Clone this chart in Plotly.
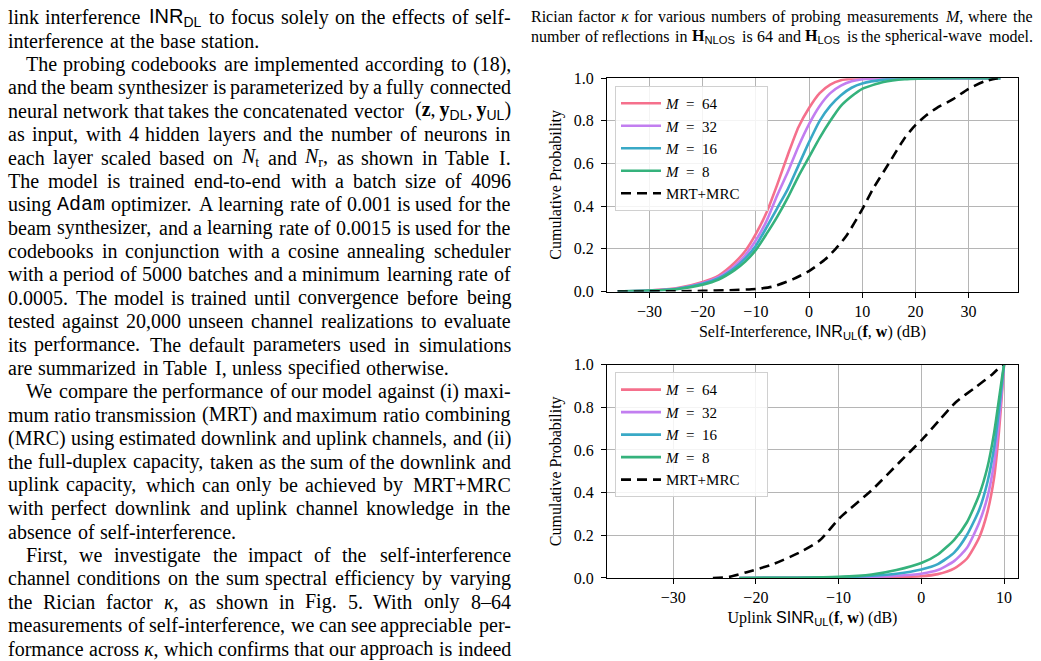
import re
import plotly.graph_objects as go

W, H = 1041, 661

# ---------------- data ----------------
series_names = ["<i>M</i>\u2002=\u200264", "<i>M</i>\u2002=\u200232", "<i>M</i>\u2002=\u200216", "<i>M</i>\u2002=\u20028"]
series_colors = ["#f5708c", "#c27ef0", "#39a9c6", "#35b27c"]
baseline_name = "MRT+MRC\u2003\u2002"

# Top: self-interference INR_UL CDF
inr_x = [-36, -30, -25, -20, -17, -14, -12, -10, -8, -6, -4, -2, 0, 2, 4, 6, 8, 10, 14, 18, 25, 36]
inr_m64 = [0, 0.005, 0.015, 0.045, 0.075, 0.135, 0.19, 0.27, 0.37, 0.50, 0.64, 0.77, 0.86, 0.93, 0.97, 0.99, 0.997, 1.0, 1.0, 1.0, 1.0, 1.0]
inr_m32 = [0, 0.005, 0.013, 0.040, 0.068, 0.12, 0.17, 0.24, 0.33, 0.45, 0.56, 0.68, 0.785, 0.87, 0.93, 0.965, 0.985, 0.995, 1.0, 1.0, 1.0, 1.0]
inr_m16 = [0, 0.004, 0.012, 0.036, 0.062, 0.11, 0.155, 0.215, 0.30, 0.39, 0.48, 0.59, 0.70, 0.80, 0.87, 0.92, 0.955, 0.975, 0.993, 1.0, 1.0, 1.0]
inr_m8 = [0, 0.004, 0.011, 0.032, 0.056, 0.10, 0.14, 0.195, 0.27, 0.35, 0.44, 0.54, 0.63, 0.72, 0.80, 0.87, 0.915, 0.95, 0.982, 0.995, 1.0, 1.0]
inr_mrt_x = [-36, -25, -20, -15, -10, -7, -3, 0, 3, 5, 7, 10, 12, 15, 18, 20, 22, 24, 27, 30, 33, 35.5]
inr_mrt = [0, 0.001, 0.003, 0.006, 0.012, 0.022, 0.058, 0.096, 0.15, 0.20, 0.26, 0.385, 0.48, 0.60, 0.72, 0.78, 0.825, 0.86, 0.90, 0.95, 0.985, 1.0]

# Bottom: uplink SINR_UL CDF
sinr_x = [-22, -15, -10, -6, -3, 0, 2, 4, 5.5, 7, 8, 8.8, 9.4, 9.8, 10]
sinr_m64 = [0, 0.0002, 0.0008, 0.002, 0.004, 0.008, 0.018, 0.045, 0.09, 0.19, 0.31, 0.47, 0.69, 0.89, 1.0]
sinr_m32 = [0, 0.0004, 0.0015, 0.005, 0.010, 0.020, 0.037, 0.08, 0.14, 0.26, 0.38, 0.54, 0.74, 0.91, 1.0]
sinr_m16 = [0, 0.0007, 0.003, 0.010, 0.020, 0.040, 0.065, 0.12, 0.20, 0.32, 0.45, 0.61, 0.79, 0.93, 1.0]
sinr_m8 = [0, 0.001, 0.005, 0.016, 0.037, 0.070, 0.11, 0.18, 0.26, 0.39, 0.52, 0.68, 0.84, 0.95, 1.0]
sinr_mrt_x = [-25.2, -23.2, -21.1, -17.9, -14.7, -12.3, -9.9, -5.9, -2.7, 0, 2.2, 4.2, 6.6, 8.6, 9.8]
sinr_mrt = [0, 0.005, 0.027, 0.065, 0.12, 0.175, 0.28, 0.415, 0.54, 0.645, 0.74, 0.825, 0.895, 0.955, 1.0]

y_ticks = [0, 0.2, 0.4, 0.6, 0.8, 1.0]
y_ticktext = ["0.0", "0.2", "0.4", "0.6", "0.8", "1.0"]
top_xticks = [-30, -20, -10, 0, 10, 20, 30]
bot_xticks = [-30, -20, -10, 0, 10]


def minus(v):
    return ("\u2212" + str(abs(v))) if v < 0 else str(v)


# ---------------- figure ----------------
fig = go.Figure()
SERIF = "Liberation Serif"
DASH = "10px,6px"

top_sets = [inr_m64, inr_m32, inr_m16, inr_m8]
bot_sets = [sinr_m64, sinr_m32, sinr_m16, sinr_m8]
for name, col, ys in zip(series_names, series_colors, top_sets):
    fig.add_trace(go.Scatter(x=inr_x, y=ys, mode="lines", name=name,
                             line=dict(color=col, width=2.6, shape="spline", smoothing=0.6),
                             xaxis="x", yaxis="y", legend="legend"))
fig.add_trace(go.Scatter(x=inr_mrt_x, y=inr_mrt, mode="lines", name=baseline_name,
                         line=dict(color="black", width=2.6, dash=DASH, shape="spline", smoothing=0.6),
                         xaxis="x", yaxis="y", legend="legend"))
for name, col, ys in zip(series_names, series_colors, bot_sets):
    fig.add_trace(go.Scatter(x=sinr_x, y=ys, mode="lines", name=name,
                             line=dict(color=col, width=2.6, shape="spline", smoothing=0.6),
                             xaxis="x2", yaxis="y2", legend="legend2"))
fig.add_trace(go.Scatter(x=sinr_mrt_x, y=sinr_mrt, mode="lines", name=baseline_name,
                         line=dict(color="black", width=2.6, dash=DASH, shape="spline", smoothing=0.6),
                         xaxis="x2", yaxis="y2", legend="legend2"))


def px(xp):
    return xp / W


def py(yp):
    return 1 - yp / H


axis_common = dict(showline=True, mirror=True, linecolor="black", linewidth=1.3,
                   ticks="outside", ticklen=5, tickwidth=1, tickcolor="black",
                   showgrid=True, gridcolor="#b5b5b5", gridwidth=1, zeroline=False,
                   tickfont=dict(family=SERIF, size=16, color="black"))

sans = '<span style="font-family:Liberation Sans">'
legend_common = dict(xanchor="left", yanchor="top", bgcolor="rgba(255,255,255,0.85)",
                     bordercolor="#d0d0d0", borderwidth=1, itemwidth=40,
                     font=dict(family=SERIF, size=15, color="black"), tracegroupgap=0)
fig.update_layout(
    width=W, height=H, margin=dict(l=0, r=0, t=0, b=0),
    paper_bgcolor="white", plot_bgcolor="white", showlegend=True,
    font=dict(family=SERIF, size=16, color="black"),
    xaxis=dict(domain=[px(607), px(1018)], range=[-38, 39.3], anchor="y",
               tickvals=top_xticks, ticktext=[minus(v) for v in top_xticks],
               title=dict(text="Self-Interference, " + sans + "INR<sub>UL</sub></span>(<b>f</b>, <b>w</b>) (dB)",
                          font=dict(family=SERIF, size=16), standoff=6),
               **axis_common),
    yaxis=dict(domain=[py(291), py(72)], range=[0, 1], anchor="x",
               tickvals=y_ticks, ticktext=y_ticktext, ticklabelstandoff=4,
               title=dict(text="Cumulative Probability", font=dict(family=SERIF, size=16), standoff=8),
               **axis_common),
    xaxis2=dict(domain=[px(607), px(1018)], range=[-38, 11.69], anchor="y2",
                tickvals=bot_xticks, ticktext=[minus(v) for v in bot_xticks],
                title=dict(text="Uplink " + sans + "SINR<sub>UL</sub></span>(<b>f</b>, <b>w</b>) (dB)",
                           font=dict(family=SERIF, size=16), standoff=6),
                **axis_common),
    yaxis2=dict(domain=[py(585), py(366)], range=[0, 1], anchor="x2",
                tickvals=y_ticks, ticktext=y_ticktext, ticklabelstandoff=4,
                title=dict(text="Cumulative Probability", font=dict(family=SERIF, size=16), standoff=8),
                **axis_common),
    legend=dict(x=px(615), y=py(80), **legend_common),
    legend2=dict(x=px(615), y=py(374), **legend_common),
)

# ---------------- page text (justified word by word) ----------------
TIMES = {' ': 250, '!': 333, '(': 333, ')': 333, '+': 564, ',': 250, '-': 333, '.': 250,
         ':': 278, ';': 278, '=': 564, '\u2013': 500, '\u2009': 167, '\u03ba': 500,
         'A': 722, 'B': 667, 'C': 667, 'D': 722, 'E': 611, 'F': 556, 'G': 722, 'H': 722, 'I': 333,
         'J': 389, 'K': 722, 'L': 611, 'M': 889, 'N': 722, 'O': 722, 'P': 556, 'Q': 722, 'R': 667,
         'S': 556, 'T': 611, 'U': 722, 'V': 722, 'W': 944, 'X': 722, 'Y': 722, 'Z': 611,
         'a': 444, 'b': 500, 'c': 444, 'd': 500, 'e': 444, 'f': 333, 'g': 500, 'h': 500, 'i': 278,
         'j': 278, 'k': 500, 'l': 278, 'm': 778, 'n': 500, 'o': 500, 'p': 500, 'q': 500, 'r': 333,
         's': 389, 't': 278, 'u': 500, 'v': 500, 'w': 722, 'x': 500, 'y': 500, 'z': 444}
HELV = {'I': 278, 'N': 722, 'R': 722, 'D': 722, 'L': 556, 'U': 722, 'O': 778, 'S': 667}


def text_width(html, size):
    sub = sans_on = mono = bold = False
    w = 0.0
    for t in re.split(r'(<[^>]+>)', html):
        if t.startswith('<'):
            tag = t.lower()
            if tag.startswith('<sub'):
                sub = True
            elif tag.startswith('</sub'):
                sub = False
            elif tag.startswith('<span'):
                sans_on = 'sans' in tag
                mono = 'mono' in tag
            elif tag.startswith('</span'):
                sans_on = mono = False
            elif tag == '<b>':
                bold = True
            elif tag == '</b>':
                bold = False
            continue
        for ch in t:
            if mono:
                cw = 600
            elif sans_on:
                cw = HELV.get(ch, 600)
            else:
                cw = TIMES.get(ch, 500)
            if bold:
                cw *= 1.1
            if sub:
                cw *= 0.75
            w += cw
    return w / 1000.0 * size * 1.02


def split_words(line):
    return [w for w in re.split(r' (?![^<]*>)', line) if w]


def add_paragraph(lines, x0, x1, y0, dy, size, indent):
    for i, (txt, mode) in enumerate(lines):
        words = split_words(txt)
        left = x0 + (indent if 'i' in mode else 0)
        yc = y0 + i * dy
        widths = [text_width(w, size) for w in words]
        if 'j' in mode and len(words) > 1:
            gap = (x1 - left - sum(widths)) / (len(words) - 1)
        else:
            gap = 0.25 * size
        xpos = left
        for k, (wd, ww) in enumerate(zip(words, widths)):
            last_j = ('j' in mode and k == len(words) - 1 and len(words) > 1)
            fig.add_annotation(x=px(x1) if last_j else px(xpos), y=py(yc),
                               xref="paper", yref="paper",
                               xanchor="right" if last_j else "left", yanchor="middle",
                               text=wd, showarrow=False, borderpad=0, borderwidth=0,
                               font=dict(family=SERIF, size=size, color="black"))
            xpos += ww + gap


INR_DL = sans + 'INR<sub>DL</sub></span>'
VEC = ('(<b>z</b>,\u2009<b>y</b><sub>' + sans + 'DL</span></sub>,\u2009<b>y</b><sub>' + sans + 'UL</span></sub>)')
ADAM = '<span style="font-family:Liberation Mono">Adam</span>'

body = [
    ("link interference " + INR_DL + " to focus solely on the effects of self-", "j"),
    ("interference at the base station.", "l"),
    ("The probing codebooks are implemented according to (18),", "ji"),
    ("and the beam synthesizer is parameterized by a fully connected", "j"),
    ("neural network that takes the concatenated vector " + VEC, "j"),
    ("as input, with 4 hidden layers and the number of neurons in", "j"),
    ("each layer scaled based on <i>N</i><sub>t</sub> and <i>N</i><sub>r</sub>, as shown in Table I.", "j"),
    ("The model is trained end-to-end with a batch size of 4096", "j"),
    ("using " + ADAM + " optimizer. A learning rate of 0.001 is used for the", "j"),
    ("beam synthesizer, and a learning rate of 0.0015 is used for the", "j"),
    ("codebooks in conjunction with a cosine annealing scheduler", "j"),
    ("with a period of 5000 batches and a minimum learning rate of", "j"),
    ("0.0005. The model is trained until convergence before being", "j"),
    ("tested against 20,000 unseen channel realizations to evaluate", "j"),
    ("its performance. The default parameters used in simulations", "j"),
    ("are summarized in Table I, unless specified otherwise.", "l"),
    ("We compare the performance of our model against (i) maxi-", "ji"),
    ("mum ratio transmission (MRT) and maximum ratio combining", "j"),
    ("(MRC) using estimated downlink and uplink channels, and (ii)", "j"),
    ("the full-duplex capacity, taken as the sum of the downlink and", "j"),
    ("uplink capacity, which can only be achieved by MRT+MRC", "j"),
    ("with perfect downlink and uplink channel knowledge in the", "j"),
    ("absence of self-interference.", "l"),
    ("First, we investigate the impact of the self-interference", "ji"),
    ("channel conditions on the sum spectral efficiency by varying", "j"),
    ("the Rician factor <i>\u03ba</i>, as shown in Fig. 5. With only 8\u201364", "j"),
    ("measurements of self-interference, we can see appreciable per-", "j"),
    ("formance across <i>\u03ba</i>, which confirms that our approach is indeed", "j"),
]
add_paragraph(body, 8, 511, 9.5, 24.0, 20, 18)

caption = [
    ("Rician factor <i>\u03ba</i> for various numbers of probing measurements <i>M</i>, where the", "j"),
    ("number of reflections in <b>H</b><sub>" + sans + "NLOS</span></sub> is 64 and <b>H</b><sub>" + sans
     + "LOS</span></sub> is the spherical-wave model.", "j"),
]
add_paragraph(caption, 531, 1033, 9, 20, 16, 0)

fig.write_html("out.html")
